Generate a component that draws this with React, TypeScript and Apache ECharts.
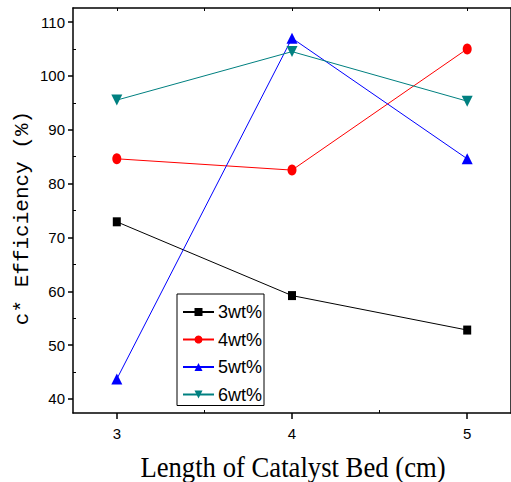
import React, { useEffect, useRef } from "react";
import * as echarts from "echarts";

const lengths = [3, 4, 5];
const wt3 = [72.9, 59.2, 52.8];
const wt4 = [84.6, 82.5, 105.0];
const wt5 = [43.7, 107.0, 84.6];
const wt6 = [95.5, 104.5, 95.3];
const seriesNames = ["3wt%", "4wt%", "5wt%", "6wt%"];
const xMajor = [3, 4, 5];
const xMinor = [3.5, 4.5];
const yMajor = [40, 50, 60, 70, 80, 90, 100, 110];
const yMinor = [45, 55, 65, 75, 85, 95, 105];

const narrow = "'Liberation Sans Narrow', 'Liberation Sans', Arial, sans-serif";

export default function App() {
  const ref = useRef<HTMLDivElement>(null);
  useEffect(() => {
    if (!ref.current) return;
    const chart = echarts.init(ref.current, undefined, { renderer: "svg" });
    const pair = (ys: number[]) => lengths.map((x, i) => [x, ys[i]]);
    const grid = { left: 73, top: 8, width: 439, height: 405 };
    const axisLine = { show: true, lineStyle: { color: "#000", width: 1.5 } };
    const xCommon = { type: "value", min: 2.75, max: 5.25, splitLine: { show: false } };
    const yCommon = { type: "value", min: 37.4, max: 112.6, splitLine: { show: false } };
    const mk = (name: string, data: number[], color: string, symbol: string, size: any, rotate = 0) => ({
      name,
      type: "line",
      data: pair(data),
      symbol,
      symbolSize: size,
      symbolRotate: rotate,
      showSymbol: true,
      lineStyle: { color, width: 1 },
      itemStyle: { color },
      xAxisIndex: 0,
      yAxisIndex: 0,
    });
    chart.setOption({
      animation: false,
      backgroundColor: "#fff",
      grid,
      xAxis: [
        {
          ...xCommon,
          position: "bottom",
          axisLine,
          axisTick: { show: true, inside: false, length: 6, customValues: xMajor, lineStyle: { color: "#000", width: 1.5 } },
          axisLabel: { show: true, customValues: xMajor, margin: 13, fontFamily: narrow, fontSize: 15, color: "#000" },
        },
        {
          ...xCommon,
          position: "bottom",
          axisLine: { show: false },
          axisTick: { show: true, inside: true, length: 3, customValues: xMinor, lineStyle: { color: "#000", width: 1 } },
          axisLabel: { show: false },
        },
        {
          ...xCommon,
          position: "top",
          axisLine,
          axisTick: { show: true, inside: true, length: 3, customValues: [...xMajor, ...xMinor], lineStyle: { color: "#000", width: 1 } },
          axisLabel: { show: false },
        },
      ],
      yAxis: [
        {
          ...yCommon,
          position: "left",
          axisLine,
          axisTick: { show: true, inside: false, length: 5, customValues: yMajor, lineStyle: { color: "#000", width: 1.5 } },
          axisLabel: { show: true, customValues: yMajor, margin: 8, fontFamily: narrow, fontSize: 15, color: "#000" },
        },
        {
          ...yCommon,
          position: "left",
          axisLine: { show: false },
          axisTick: { show: true, inside: true, length: 3, customValues: yMinor, lineStyle: { color: "#000", width: 1 } },
          axisLabel: { show: false },
        },
        {
          ...yCommon,
          position: "right",
          axisLine,
          axisTick: { show: false },
          axisLabel: { show: false },
        },
      ],
      legend: {
        data: seriesNames,
        orient: "vertical",
        left: 177,
        top: 294,
        padding: [8, 2, 1, 5],
        itemGap: 7.5,
        itemWidth: 31,
        itemHeight: 10,
        borderColor: "#000",
        borderWidth: 1,
        textStyle: { fontFamily: narrow, fontSize: 18, color: "#000", lineHeight: 20, padding: [0, 0, 0, -1] },
      },
      series: [
        mk(seriesNames[0], wt3, "#000000", "rect", [8, 9]),
        mk(seriesNames[1], wt4, "#ff0000", "circle", [9, 11]),
        mk(seriesNames[2], wt5, "#0000ff", "triangle", [11, 11]),
        mk(seriesNames[3], wt6, "#008080", "triangle", [11, 11], 180),
      ],
      graphic: [
        {
          type: "text",
          x: 293,
          y: 467,
          scaleX: 0.92,
          style: {
            text: "Length of Catalyst Bed (cm)",
            font: "29px 'Liberation Serif', serif",
            fill: "#000",
            textAlign: "center",
            textVerticalAlign: "middle",
          },
        },
        {
          type: "text",
          x: 22,
          y: 218,
          rotation: Math.PI / 2,
          style: {
            text: "c* Efficiency (%)",
            font: "21px 'Liberation Mono', 'Courier New', monospace",
            fill: "#000",
            textAlign: "center",
            textVerticalAlign: "middle",
          },
        },
      ],
    });
    return () => chart.dispose();
  }, []);
  return <div ref={ref} style={{ width: 511, height: 482, position: "absolute", left: 0, top: 0 }} />;
}
